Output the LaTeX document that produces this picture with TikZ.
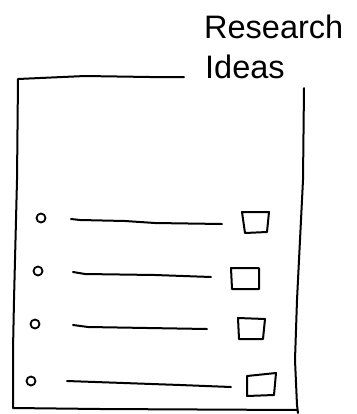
\documentclass[tikz,border=0pt]{standalone}
\usepackage{fontspec}
\setmainfont{Liberation Sans}
\begin{document}
\begin{tikzpicture}[x=1bp,y=-1bp,
  ink/.style={line width=2bp,line cap=round,line join=round,black},
  bulletdot/.style={circle,draw,line width=1.8bp,minimum size=9bp,inner sep=0pt},
  lbl/.style={inner sep=0pt,anchor=base west,font=\fontsize{32.5bp}{40bp}\selectfont}]
\useasboundingbox (0,0) rectangle (357,414);
% label
\node[lbl] (t1) at (204,38) {Research};
\node[lbl] (t2) at (205,78) {Ideas};
% page outline
\coordinate (tl) at (18,79);
\coordinate (tr) at (184,77);
\coordinate (rt) at (304,88);
\coordinate (bl) at (13,408);
\coordinate (br) at (298,413);
\draw[ink] (tr) -- (150,77) -- (85,76) -- (40,78) -- (tl) -- (17,180) -- (14,300) -- (13,350) -- (bl) -- (100,409) -- (297,410);
\draw[ink] (rt) -- (303,180) -- (297,300) -- (295,360) -- (297,405) -- (br);
% rows
\node[bulletdot] (b1) at (41,218) {};
\node[bulletdot] (b2) at (38,271) {};
\node[bulletdot] (b3) at (35,324) {};
\node[bulletdot] (b4) at (31,381) {};
\coordinate (l1a) at (71,219); \coordinate (l1b) at (222,224);
\coordinate (l2a) at (73,272); \coordinate (l2b) at (211,277);
\coordinate (l3a) at (73,325); \coordinate (l3b) at (207,329);
\coordinate (l4a) at (67,381); \coordinate (l4b) at (231,387);
\draw[ink] (l1a) -- (80,220) -- (125,221) -- (155,223) -- (l1b);
\draw[ink] (l2a) -- (85,274) -- (155,275) -- (l2b);
\draw[ink] (l3a) -- (88,327) -- (l3b);
\draw[ink] (l4a) -- (180,385) -- (l4b);
% check boxes
\draw[ink] (242,212) -- (269,212) -- (267,232) -- (245,233) -- cycle;
\draw[ink] (231,268) -- (259,268) -- (259,289) -- (232,289) -- cycle;
\draw[ink] (238,318) -- (265,319) -- (263,339) -- (239,339) -- cycle;
\draw[ink] (247,376) -- (276,373) -- (274,395) -- (247,396) -- cycle;
\end{tikzpicture}
\end{document}
